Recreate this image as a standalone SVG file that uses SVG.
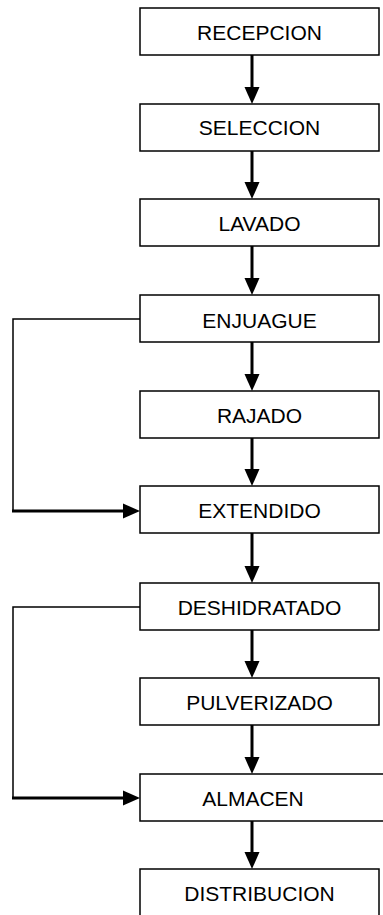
<svg xmlns="http://www.w3.org/2000/svg" width="383" height="915" viewBox="0 0 383 915">
<style>
.box rect{fill:#fff;stroke:#000;stroke-width:1.5}
.box text{font-family:"Liberation Sans",Arial,sans-serif;font-size:21px;text-anchor:middle;fill:#000}
.thick{stroke:#000;stroke-width:3;fill:none}
.thin{stroke:#000;stroke-width:1.5;fill:none}
</style>
<defs>
<marker id="ah" markerUnits="userSpaceOnUse" markerWidth="17" markerHeight="16" refX="0" refY="8" orient="auto">
<path d="M0,0.5 L17,8 L0,15.5 z" fill="#000"/>
</marker>
</defs>
<rect width="383" height="915" fill="#fff"/>
<g id="connectors">
<line class="thick" x1="252" y1="55" x2="252" y2="87" marker-end="url(#ah)"/>
<line class="thick" x1="252" y1="151" x2="252" y2="182" marker-end="url(#ah)"/>
<line class="thick" x1="252" y1="246" x2="252" y2="278" marker-end="url(#ah)"/>
<line class="thick" x1="252" y1="342" x2="252" y2="374" marker-end="url(#ah)"/>
<line class="thick" x1="252" y1="438" x2="252" y2="469" marker-end="url(#ah)"/>
<line class="thick" x1="252" y1="533" x2="252" y2="566" marker-end="url(#ah)"/>
<line class="thick" x1="252" y1="630" x2="252" y2="661" marker-end="url(#ah)"/>
<line class="thick" x1="252" y1="725" x2="252" y2="757" marker-end="url(#ah)"/>
<line class="thick" x1="252" y1="821" x2="252" y2="852" marker-end="url(#ah)"/>
<polyline class="thin" points="140,319 13,319 13,511"/>
<line class="thick" x1="12" y1="511" x2="123" y2="511" marker-end="url(#ah)"/>
<polyline class="thin" points="140,607 13,607 13,798"/>
<line class="thick" x1="12" y1="798" x2="123" y2="798" marker-end="url(#ah)"/>
</g>
<g id="n1" class="box"><rect x="140" y="8" width="239" height="47"/><text x="259.5" y="39.5">RECEPCION</text></g>
<g id="n2" class="box"><rect x="140" y="104" width="239" height="47"/><text x="259.5" y="135">SELECCION</text></g>
<g id="n3" class="box"><rect x="140" y="199" width="239" height="47"/><text x="259.5" y="230.5">LAVADO</text></g>
<g id="n4" class="box"><rect x="140" y="295" width="239" height="47"/><text x="259.5" y="327.5">ENJUAGUE</text></g>
<g id="n5" class="box"><rect x="140" y="391" width="239" height="47"/><text x="259.5" y="423">RAJADO</text></g>
<g id="n6" class="box"><rect x="140" y="486" width="239" height="47"/><text x="259.5" y="518">EXTENDIDO</text></g>
<g id="n7" class="box"><rect x="140" y="583" width="239" height="47"/><text x="259.5" y="614.5">DESHIDRATADO</text></g>
<g id="n8" class="box"><rect x="140" y="678" width="239" height="47"/><text x="259.5" y="710">PULVERIZADO</text></g>
<g id="n9" class="box"><rect x="140" y="774" width="250" height="47"/><text x="253" y="805.5">ALMACEN</text></g>
<g id="n10" class="box"><rect x="140" y="869" width="239" height="50"/><text x="259.5" y="900.5">DISTRIBUCION</text></g>
</svg>
